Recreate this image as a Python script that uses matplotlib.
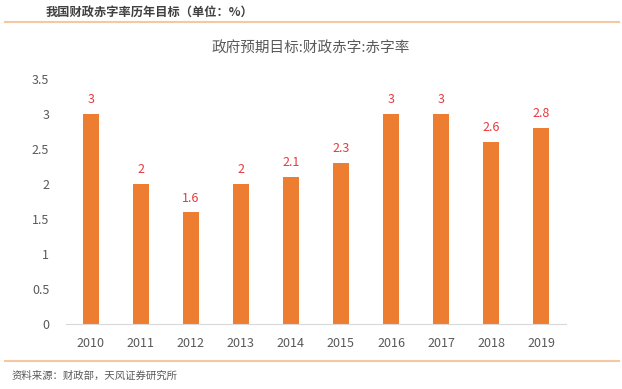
import matplotlib.pyplot as plt

plt.rcParams['font.family'] = ['Noto Sans CJK SC', 'DejaVu Sans']

years = ['2010', '2011', '2012', '2013', '2014', '2015', '2016', '2017', '2018', '2019']
deficit_rate = [3, 2, 1.6, 2, 2.1, 2.3, 3, 3, 2.6, 2.8]
yticks = [0, 0.5, 1, 1.5, 2, 2.5, 3, 3.5]
ytick_labels = ['0', '0.5', '1', '1.5', '2', '2.5', '3', '3.5']

fig = plt.figure(figsize=(6.22, 3.89), dpi=100)
ax = fig.add_axes([0.106, 0.166, 0.804, 0.631])

x = range(len(years))
ax.bar(x, deficit_rate, width=0.32, color='#ed7d31')
for i, v in zip(x, deficit_rate):
    ax.text(i, v + 0.11, f'{v:g}', ha='center', va='bottom', color='#e8383d', fontsize=9)

ax.set_xlim(-0.5, len(years) - 0.5)
ax.set_ylim(0, 3.5)
ax.set_xticks(list(x))
ax.set_xticklabels(years)
ax.set_yticks(yticks)
ax.set_yticklabels(ytick_labels)
ax.tick_params(axis='both', length=0, colors='#595959', labelsize=9)
ax.tick_params(axis='x', pad=9)
ax.tick_params(axis='y', pad=12)
for side in ['top', 'right', 'left']:
    ax.spines[side].set_visible(False)
ax.spines['bottom'].set_color('#d9d9d9')

fig.text(0.5, 0.876, '政府预期目标:财政赤字:赤字率', ha='center', va='center',
         fontsize=10.5, color='#595959')

# header and footer
fig.text(0.074, 0.968, '我国财政赤字率历年目标（单位：%）', ha='left', va='center',
         fontsize=8.8, fontweight='bold', color='#404040')
fig.add_artist(plt.Line2D([0.008, 0.995], [0.943, 0.943], color='#f5c9a0', lw=1.5))
fig.add_artist(plt.Line2D([0.008, 0.995], [0.071, 0.071], color='#f5c9a0', lw=1.5))
fig.text(0.018, 0.033, '资料来源：财政部，天风证券研究所', ha='left', va='center',
         fontsize=7.5, color='#595959')

fig.savefig('out.png', dpi=100)
